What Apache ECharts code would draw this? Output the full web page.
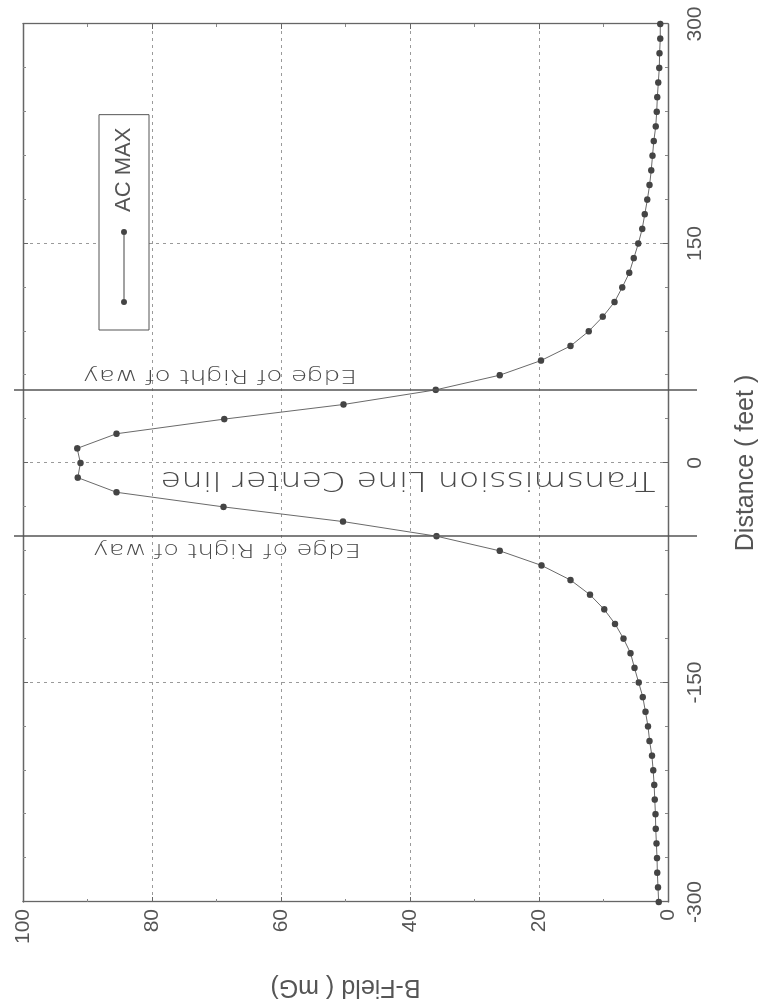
<!DOCTYPE html>
<html>
<head>
<meta charset="utf-8">
<script src="https://cdn.jsdelivr.net/npm/echarts@6/dist/echarts.min.js"></script>
<style>
html, body { margin: 0; padding: 0; background: #ffffff; overflow: hidden; width: 764px; height: 1007px; }
#chart { position: absolute; left: 0; top: 0; width: 1007px; height: 764px;
  transform-origin: 0 0; transform: translate(0px, 1007px) rotate(-90deg); }
</style>
</head>
<body>
<div id="chart"></div>
<script>
// ---- data ----
const distances = [-300, -290, -280, -270, -260, -250, -240, -230, -220, -210,
  -200, -190, -180, -170, -160, -150, -140, -130, -120, -110,
  -100, -90, -80, -70, -60, -50, -40, -30, -20, -10,
  0, 10, 20, 30, 40, 50, 60, 70, 80, 90,
  100, 110, 120, 130, 140, 150, 160, 170, 180, 190,
  200, 210, 220, 230, 240, 250, 260, 270, 280, 290, 300];
const bField = [1.45, 1.55, 1.65, 1.7, 1.8, 1.9, 1.95, 2.05, 2.15, 2.3,
  2.5, 2.85, 3.1, 3.5, 3.9, 4.55, 5.2, 5.8, 6.9, 8.2,
  9.9, 12.1, 15.1, 19.6, 26.1, 35.9, 50.4, 68.9, 85.5, 91.5,
  91.1, 91.6, 85.5, 68.8, 50.3, 36.0, 26.1, 19.7, 15.1, 12.3,
  10.1, 8.3, 7.1, 6.0, 5.3, 4.6, 4.0, 3.6, 3.2, 2.85,
  2.6, 2.4, 2.2, 1.9, 1.75, 1.65, 1.5, 1.35, 1.3, 1.2, 1.2];
const seriesName = 'AC MAX';
const distanceTicks = [-300, -150, 0, 150, 300];
const bFieldTicks = [0, 20, 40, 60, 80, 100];
const rightOfWayEdges = [-50, 50];
const edgeLabel = 'Edge of Right of way';
const centerLabel = 'Transmission Line Center line';
const xTitle = 'Distance ( feet )';
const yTitle = 'B-Field ( mG)';

// ---- chart ----
const FONT = '"Liberation Sans", Arial, sans-serif';
const frameColor = '#666';
const textColor = '#555';
const points = distances.map((d, i) => [d, bField[i]]);

const xRange = { type: 'value', min: distanceTicks[0], max: distanceTicks[distanceTicks.length - 1],
  interval: distanceTicks[1] - distanceTicks[0] };
const yRange = { type: 'value', min: bFieldTicks[0], max: bFieldTicks[bFieldTicks.length - 1],
  interval: bFieldTicks[1] - bFieldTicks[0] };
const axisLine = { show: true, onZero: false, lineStyle: { color: frameColor, width: 1.3 } };
const tick = { show: true, inside: true, length: 5, lineStyle: { color: frameColor, width: 1 } };
const grid = { show: true, lineStyle: { color: '#9a9a9a', type: [3, 4], width: 1 } };

const legendIcon = 'path://M3,0 A3,3 0 1,1 3,6 A3,3 0 1,1 3,0 Z M6,2.6 L70,2.6 L70,3.4 L6,3.4 Z M73,0 A3,3 0 1,1 73,6 A3,3 0 1,1 73,0 Z';

const edgeLines = rightOfWayEdges.map(e => [{ xAxis: e, y: 14 }, { xAxis: e, y: 697 }]);

const handStyle = (text, size) => ({
  text: text, font: '200 ' + size + 'px "DejaVu Sans"', fill: '#4a4a4a',
  textAlign: 'center', textVerticalAlign: 'middle', align: 'center', verticalAlign: 'middle'
});

const option = {
  animation: false,
  backgroundColor: '#ffffff',
  grid: { left: 105, right: 24, top: 23, bottom: 96, containLabel: false },
  xAxis: [
    Object.assign({}, xRange, {
      position: 'bottom',
      name: xTitle, nameLocation: 'middle', nameGap: 66,
      nameTextStyle: { fontFamily: FONT, fontSize: 25, color: textColor },
      axisLine: axisLine, axisTick: tick,
      minorTick: { show: true, splitNumber: 5, length: 3, lineStyle: { color: '#888' } },
      axisLabel: { fontFamily: FONT, fontSize: 21, color: textColor, margin: 17 },
      splitLine: grid
    }),
    Object.assign({}, xRange, {
      position: 'top',
      axisLine: axisLine, axisTick: tick,
      minorTick: { show: true, splitNumber: 5, length: 3, lineStyle: { color: '#888' } },
      axisLabel: { show: false }, splitLine: { show: false }
    })
  ],
  yAxis: [
    Object.assign({}, yRange, {
      position: 'left',
      name: yTitle, nameLocation: 'middle', nameGap: 72, nameRotate: 90,
      nameTextStyle: { fontFamily: FONT, fontSize: 25, color: textColor },
      axisLine: axisLine, axisTick: tick,
      minorTick: { show: true, splitNumber: 2, length: 3, lineStyle: { color: '#888' } },
      axisLabel: { fontFamily: FONT, fontSize: 21, color: textColor, margin: 7 },
      splitLine: grid
    }),
    Object.assign({}, yRange, {
      position: 'right',
      axisLine: axisLine, axisTick: tick,
      minorTick: { show: true, splitNumber: 2, length: 3, lineStyle: { color: '#888' } },
      axisLabel: { show: false }, splitLine: { show: false }
    })
  ],
  legend: {
    data: [{ name: seriesName, icon: legendIcon }],
    left: 677, top: 99, orient: 'horizontal',
    padding: [13, 13, 13, 25],
    itemWidth: 76, itemHeight: 6,
    borderColor: '#555', borderWidth: 1, borderRadius: 0,
    backgroundColor: '#ffffff',
    selectedMode: false,
    itemStyle: { color: '#444', borderWidth: 0 },
    textStyle: { fontFamily: FONT, fontSize: 22, color: textColor, lineHeight: 24, padding: [0, 0, 0, 12] }
  },
  series: [{
    name: seriesName,
    type: 'line',
    data: points,
    clip: false,
    showAllSymbol: true,
    symbol: 'circle',
    symbolSize: 6.5,
    lineStyle: { color: '#6a6a6a', width: 1 },
    itemStyle: { color: '#444' },
    emphasis: { disabled: true },
    markLine: {
      silent: true,
      symbol: ['none', 'none'],
      label: { show: false },
      lineStyle: { color: '#555', width: 1.5, type: 'solid' },
      data: edgeLines
    }
  }],
  graphic: [
    { type: 'text', x: 632, y: 220, rotation: Math.PI / 2, scaleX: 1.33, style: handStyle(edgeLabel, 20) },
    { type: 'text', x: 458, y: 227, rotation: Math.PI / 2, scaleX: 1.3, style: handStyle(edgeLabel, 20) },
    { type: 'text', x: 528, y: 408, rotation: Math.PI / 2, scaleX: 1.25, style: handStyle(centerLabel, 27) }
  ]
};

const chart = echarts.init(document.getElementById('chart'), null, { renderer: 'canvas' });
chart.setOption(option);
</script>
</body>
</html>
